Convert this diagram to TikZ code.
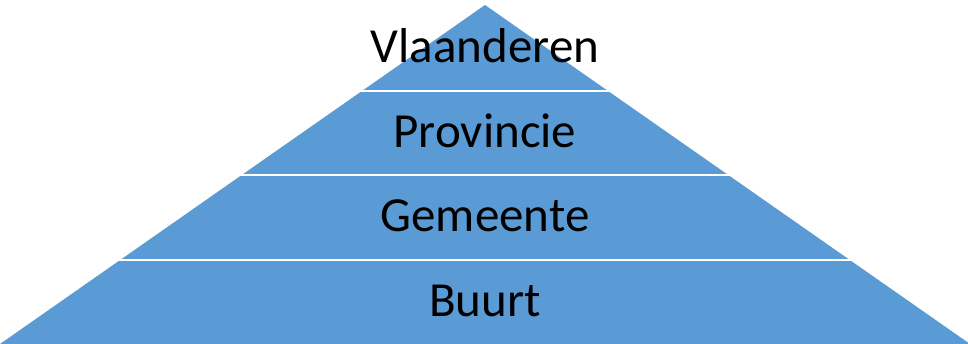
\documentclass[tikz,border=0pt]{standalone}
\usepackage{fontspec}
\setmainfont{Carlito}
\definecolor{pyrblue}{HTML}{5B9BD5}
\begin{document}
\begin{tikzpicture}[x=1pt,y=1pt,
  lbl/.style={font=\fontsize{49}{58}\selectfont, text=black, inner sep=0pt, anchor=base},
  gapline/.style={draw=white, line width=2.8pt}]
\useasboundingbox (0,0) rectangle (968,344);
\coordinate (apex) at (485,339);
\coordinate (bl) at (0,0);
\coordinate (br) at (970,0);
\fill[pyrblue] (apex) -- (br) -- (bl) -- cycle;
\coordinate (g1l) at (0,253); \coordinate (g1r) at (968,253);
\coordinate (g2l) at (0,169); \coordinate (g2r) at (968,169);
\coordinate (g3l) at (0,84);  \coordinate (g3r) at (968,84);
\draw[gapline] (g1l) -- (g1r);
\draw[gapline] (g2l) -- (g2r);
\draw[gapline] (g3l) -- (g3r);
\node[lbl] (vl) at (485,281.7) {Vlaanderen};
\node[lbl] (pr) at (485,196.7) {Provincie};
\node[lbl] (ge) at (485,112.3) {Gemeente};
\node[lbl] (bu) at (485,27.3) {Buurt};
\end{tikzpicture}
\end{document}
